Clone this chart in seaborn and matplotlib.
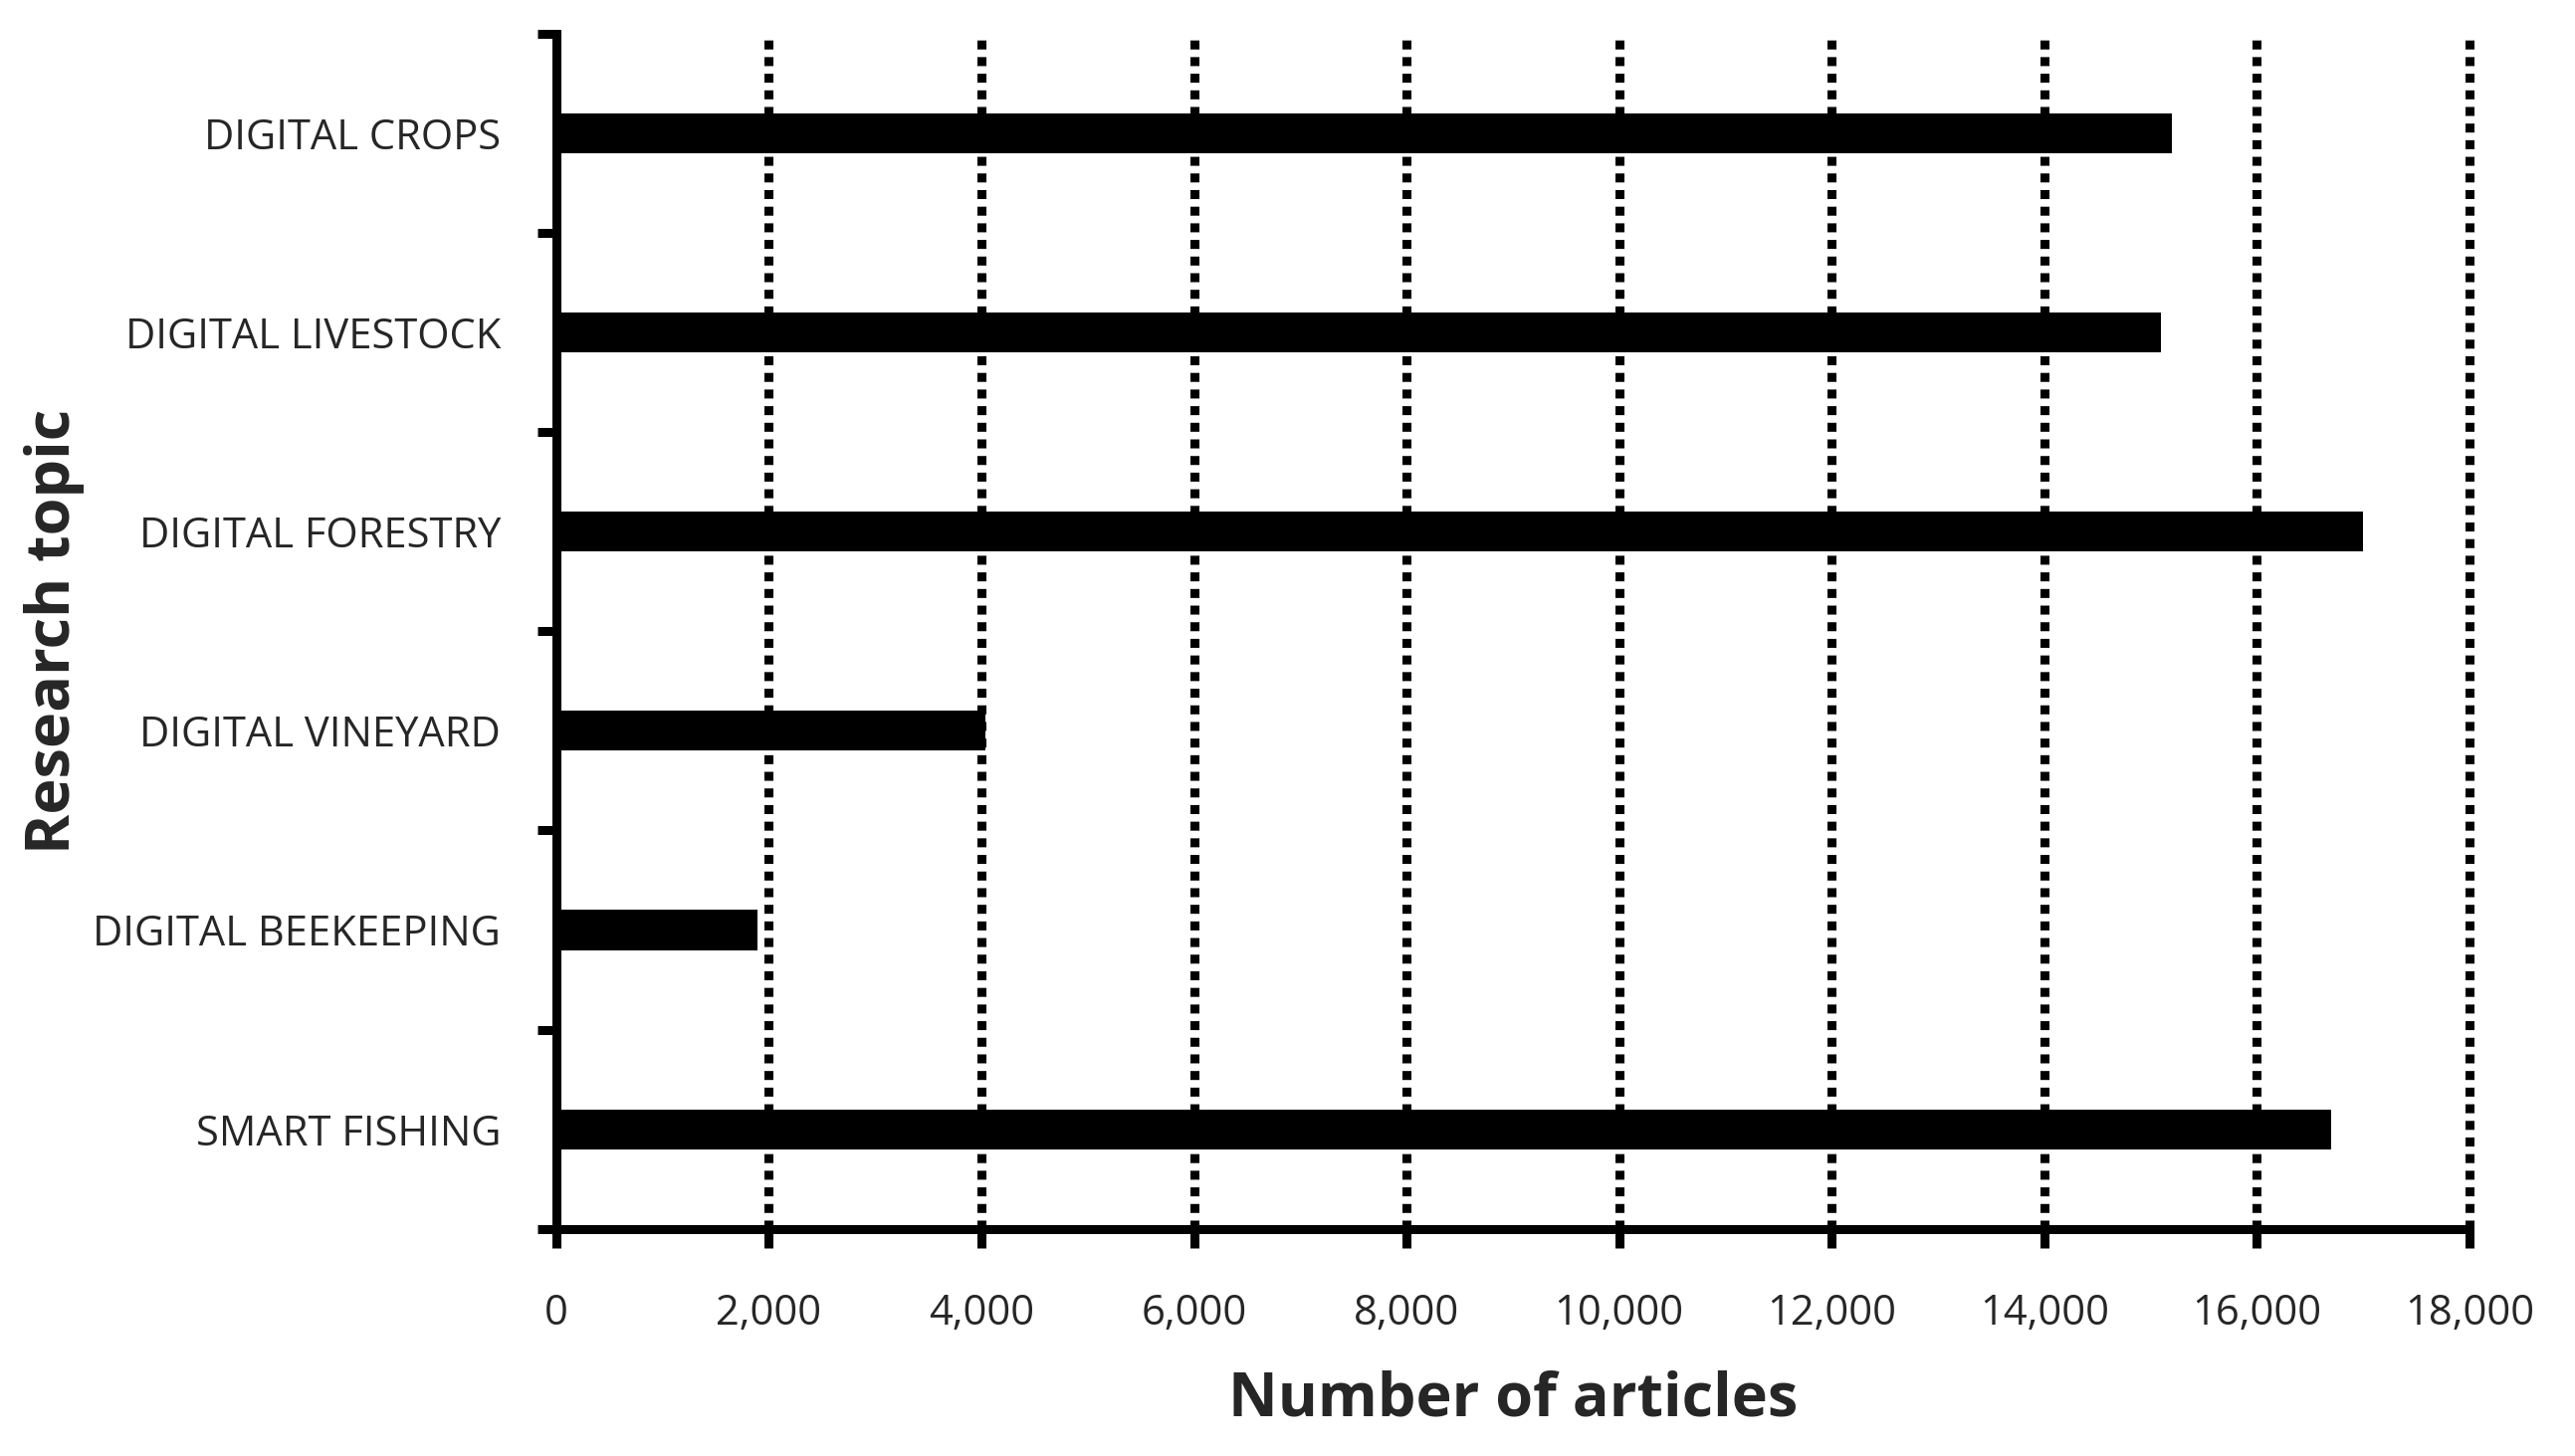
import numpy as np
import pandas as pd
import matplotlib
matplotlib.use("Agg")
import matplotlib.pyplot as plt
import seaborn as sns

# data
topics = ['DIGITAL CROPS', 'DIGITAL LIVESTOCK', 'DIGITAL FORESTRY',
          'DIGITAL VINEYARD', 'DIGITAL BEEKEEPING', 'SMART FISHING']
articles = [15200, 15100, 17000, 4040, 1890, 16700]
x_ticks = [0, 2000, 4000, 6000, 8000, 10000, 12000, 14000, 16000, 18000]

df = pd.DataFrame({'topic': topics, 'articles': articles})

sns.set_theme(style="white")
plt.rcParams['font.family'] = ['Open Sans', 'DejaVu Sans']

fig = plt.figure(figsize=(25.87, 14.63), dpi=100)
ax = fig.add_axes([0.216, 0.156, 0.743, 0.821])

lw = 6.5
sns.barplot(data=df, x='articles', y='topic', orient='h', color='black',
            width=0.2, saturation=1, linewidth=0, ax=ax, zorder=3)

ax.set_xlim(0, 18000)
ax.set_ylim(len(topics) - 0.5, -0.5)
ax.set_xticks(x_ticks)
ax.set_xticklabels([f'{v:,}' for v in x_ticks])

# dotted vertical grid
for v in x_ticks[1:]:
    ax.axvline(v, color='black', lw=lw, linestyle=(0, (1.0, 0.85)),
               dash_capstyle='butt', zorder=1, clip_on=False)

# category labels at centres, tick marks at boundaries
ax.set_yticks(range(len(topics)))
ax.set_yticklabels(topics)
ax.set_yticks(np.arange(-0.5, len(topics)), minor=True)
ax.tick_params(axis='y', which='major', left=True, length=0, pad=40, labelsize=30)
ax.tick_params(axis='y', which='minor', left=True, length=14, width=lw,
               direction='out', color='black')
ax.tick_params(axis='x', which='major', bottom=True, length=14, width=lw,
               direction='out', color='black', pad=32, labelsize=30)

for s in ['top', 'right']:
    ax.spines[s].set_visible(False)
for s in ['left', 'bottom']:
    ax.spines[s].set_linewidth(lw)
    ax.spines[s].set_color('black')

ax.set_xlabel('Number of articles', fontsize=44, fontweight='bold', labelpad=26)
ax.set_ylabel('Research topic', fontsize=44, fontweight='bold', labelpad=6)

fig.savefig('out.png', dpi=100)
